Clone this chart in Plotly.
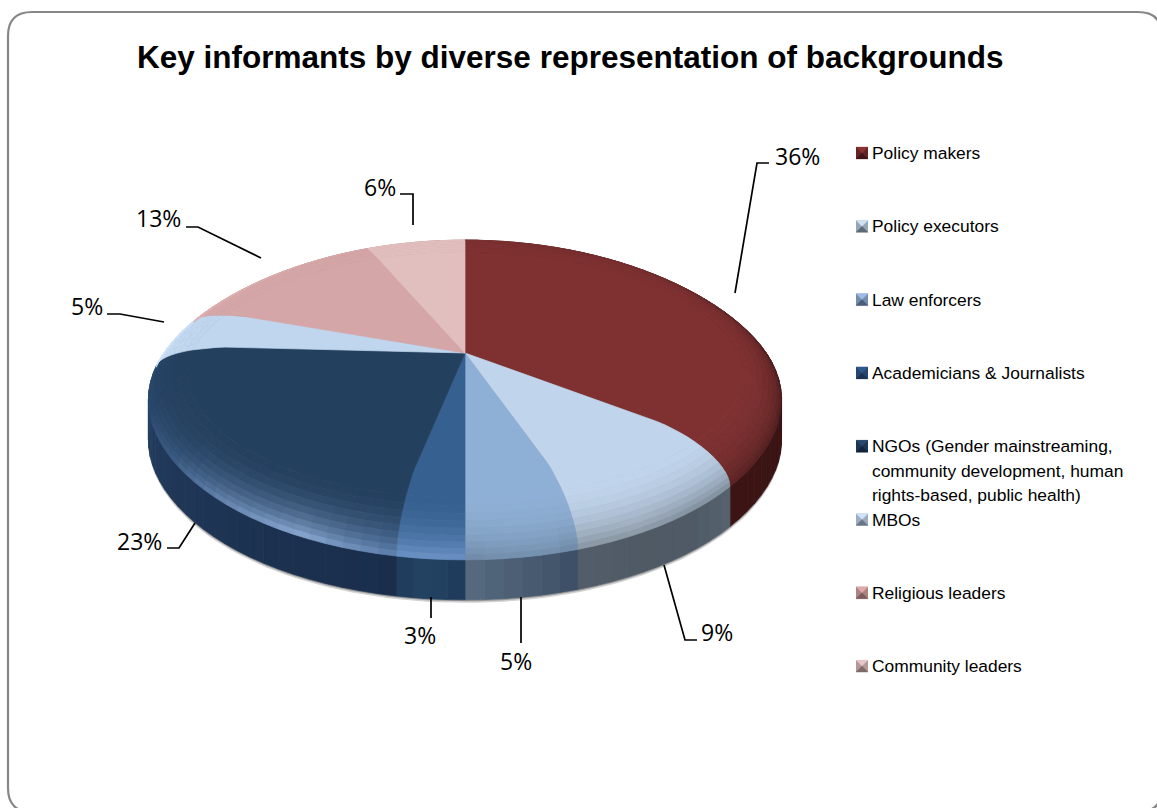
import math
import plotly.graph_objects as go

TITLE = "Key informants by diverse representation of backgrounds"
categories = [
    "Policy makers",
    "Policy executors",
    "Law enforcers",
    "Academicians & Journalists",
    "NGOs (Gender mainstreaming,<br>community development, human<br>rights-based, public health)",
    "MBOs",
    "Religious leaders",
    "Community leaders",
]
shares = [36, 9, 5, 3, 23, 5, 13, 6]

# Per-slice colours: flat top, edge bevel and side wall (stops run across each slice).
top_colors = ["#7f3132", "#c0d4ec", "#8fb0d6", "#35608f", "#24405f", "#bfd6ee", "#d5a6a7", "#e2bfbf"]
rim_colors = [
    ["#7a3232", "#6c2b2b", "#3c1818", "#5a2222"],
    ["#7f8c9a", "#808e9c", "#8a96a2", "#85929f"],
    ["#6d87a3", "#7390ae", "#728dab", "#6d88a5"],
    ["#6c93c6", "#6c93c6", "#6c93c6", "#6c93c6"],
    ["#5f82b0", "#8fadd8", "#6a8ab5", "#3c5c85", "#2b4a70", "#2b4a70"],
    ["#d2e6fc", "#d2e6fc", "#cde3fa", "#c8def5"],
    ["#e0b2b2", "#dcaeae", "#d8a9a9", "#d5a6a7"],
    ["#e2bfbf", "#e2bfbf", "#e2bfbf", "#e2bfbf"],
]
side_colors = [
    ["#3c1414", "#3c1414", "#3a1313", "#3c1414"],
    ["#56626e", "#4f5a66", "#4f5a65", "#535e6a"],
    ["#3c4e65", "#46586d", "#4e6177", "#586b80"],
    ["#1f3a5a", "#22405f", "#234262", "#1f3a5a"],
    ["#1a2e4c", "#1c3251", "#21395a", "#264567"],
    ["#2a4868", "#2a4868", "#2a4868", "#2a4868"],
    ["#7a5a5a", "#7a5a5a", "#7a5a5a", "#7a5a5a"],
    ["#7a5a5a", "#7a5a5a", "#7a5a5a", "#7a5a5a"],
]
legend_top = ["#8a3333", "#cfe2f6", "#9dbde4", "#2f5a8e", "#27486e", "#cfe4fa", "#dcaaaa", "#e6c6c6"]
legend_bottom = ["#401616", "#5d6a78", "#4b5c76", "#1c3250", "#12243b", "#6a7685", "#7b5b5b", "#7f6b6b"]

# Placement of the value labels and their leader lines, in page pixels.
label_xy = [(797, 156), (717, 632), (516, 661), (420, 635), (139, 541), (87, 306), (158, 218), (380, 187)]
leader_paths = [
    [(769, 163), (757, 163), (735, 293)],
    [(697, 640), (685, 640), (664, 565)],
    [(521, 597), (521, 643)],
    [(431, 597), (431, 618)],
    [(167, 548), (179, 548), (195, 523)],
    [(107, 314), (120, 314), (164, 322)],
    [(186, 227), (198, 227), (261, 258)],
    [(400, 194), (413, 194), (413, 225)],
]

# Projection of the tilted disc onto the page.
CX, CY = 465.0, 353.0
SPAN_X, SPAN_Y = 306.0, 132.0
TILT = -0.169
EDGE_BULGE = 0.022
FLAT_R = 0.72
RIM_DROP = 24.0
WALL = 40.0
SECTOR_DEG = 3.0
BEVEL_RINGS = 9
SHADE_START = math.radians(35)


def project(r, theta, lift=0.0):
    """Page position of a disc point at radius r, clockwise angle theta from twelve o'clock."""
    u, v = math.sin(theta), -math.cos(theta)
    denom = 1 + TILT * r * v
    x = CX + SPAN_X * r * u * (1 + EDGE_BULGE * u ** 8) / denom
    y = CY + SPAN_Y * r * v / denom + lift
    return x, y


def bevel_point(phi, theta):
    """Point on the rounded edge; phi runs from 0 (flat top) to pi/2 (outer rim)."""
    t = math.sin(phi)
    r = FLAT_R + (1 - FLAT_R) * t
    v = -math.cos(theta)
    return project(r, theta, RIM_DROP * (1 + v) * (1 - math.cos(phi)))


def wall_point(theta, extra=0.0):
    v = -math.cos(theta)
    return project(1.0, theta, RIM_DROP * (1 + v) + WALL + extra)


def to_rgb(c):
    return tuple(int(c[i:i + 2], 16) for i in (1, 3, 5))


def mix(a, b, w):
    ca, cb = to_rgb(a), to_rgb(b)
    return "#%02x%02x%02x" % tuple(round(p + (q - p) * w) for p, q in zip(ca, cb))


def along(stops, f):
    pos = f * (len(stops) - 1)
    i = min(int(pos), len(stops) - 2)
    return mix(stops[i], stops[i + 1], pos - i)


fig = go.Figure()


def polygon(points, color, line=0.7, opacity=None):
    xs, ys = zip(*points)
    fig.add_trace(go.Scatter(
        x=list(xs) + [xs[0]], y=list(ys) + [ys[0]], mode="lines", fill="toself",
        fillcolor=color, line=dict(color=color, width=line), opacity=opacity,
        hoverinfo="skip", showlegend=False,
    ))


# Slice angles from the shares.
total = sum(shares)
edges = [0.0]
for s in shares:
    edges.append(edges[-1] + 2 * math.pi * s / total)

# Soft shadow beneath the disc.
ring = [i * 2 * math.pi / 180 for i in range(180)]
polygon([wall_point(a, 3.0) for a in ring], "rgba(0,0,0,0.18)", line=0)
polygon([wall_point(a, 1.5) for a in ring], "rgba(0,0,0,0.25)", line=0)


def sector_steps(i):
    a0, a1 = edges[i], edges[i + 1]
    n = max(2, math.ceil(math.degrees(a1 - a0) / SECTOR_DEG))
    return [a0 + (a1 - a0) * j / n for j in range(n + 1)]


# Side wall, then the flat top, then the rounded edge.
for i in range(len(shares)):
    steps = sector_steps(i)
    n = len(steps) - 1
    for j in range(n):
        pts = [bevel_point(math.pi / 2, steps[j]), bevel_point(math.pi / 2, steps[j + 1]),
               wall_point(steps[j + 1]), wall_point(steps[j])]
        polygon(pts, along(side_colors[i], (j + 0.5) / n))

bends = [SHADE_START * b / 6 for b in range(7)]
for i in range(len(shares)):
    steps = sector_steps(i)
    n = len(steps) - 1
    # Solid part of the top: straight radial edges that begin to bend over the rim.
    outline = [(CX, CY)] + [bevel_point(p, steps[0]) for p in bends]
    outline += [bevel_point(SHADE_START, a) for a in steps]
    outline += [bevel_point(p, steps[-1]) for p in reversed(bends)]
    polygon(outline, top_colors[i])
    # Shaded part of the rim.
    for j in range(n):
        rim = along(rim_colors[i], (j + 0.5) / n)
        for k in range(BEVEL_RINGS):
            f0, f1 = k / BEVEL_RINGS, (k + 1) / BEVEL_RINGS
            p0 = SHADE_START + (math.pi / 2 - SHADE_START) * f0
            p1 = SHADE_START + (math.pi / 2 - SHADE_START) * f1
            pts = [bevel_point(p0, steps[j]), bevel_point(p0, steps[j + 1]),
                   bevel_point(p1, steps[j + 1]), bevel_point(p1, steps[j])]
            polygon(pts, mix(top_colors[i], rim, ((f0 + f1) / 2) ** 1.8))

# Legend keys: small bevelled squares.
KEY_X, KEY_Y0, KEY_DY, KEY_SIZE = 856.0, 153.0, 73.3, 12.0
LEGEND_FONT = dict(family="Liberation Sans", size=17.4, color="#000000")
annotations = []
for i, name in enumerate(categories):
    y = KEY_Y0 + KEY_DY * i
    x0, x1, y0, y1 = KEY_X, KEY_X + KEY_SIZE, y - KEY_SIZE / 2, y + KEY_SIZE / 2
    mid = (x0 + KEY_SIZE / 2, y)
    side = mix(legend_top[i], legend_bottom[i], 0.5)
    polygon([(x0, y0), (x1, y0), (x1, y1), (x0, y1)], side, line=0)
    polygon([(x0, y0), (x1, y0), mid], legend_top[i], line=0.3)
    polygon([(x0, y1), (x1, y1), mid], legend_bottom[i], line=0.3)
    for ln, part in enumerate(name.split("<br>")):
        annotations.append(dict(x=869.5, y=y + 24.5 * ln, xref="x", yref="y", text=part, showarrow=False,
                                xanchor="left", yanchor="middle", font=LEGEND_FONT))

# Value labels and leader lines.
shapes = []
for s, (lx, ly), path in zip(shares, label_xy, leader_paths):
    annotations.append(dict(x=lx, y=ly, xref="x", yref="y", text=f"{s}%", showarrow=False,
                            xanchor="center", yanchor="middle",
                            font=dict(family="Open Sans", size=23, color="#000000")))
    d = "M " + " L ".join(f"{px},{py}" for px, py in path)
    shapes.append(dict(type="path", path=d, xref="x", yref="y", line=dict(color="#000000", width=1.7)))

annotations.append(dict(x=570, y=57, xref="x", yref="y", text=f"<b>{TITLE}</b>", showarrow=False,
                        xanchor="center", yanchor="middle",
                        font=dict(family="Liberation Sans", size=31.5, color="#000000")))

# Rounded page frame, running slightly past the right and bottom edges.
L, T, R, B, C = 8, 12, 1162, 812, 24
frame = (f"M {L + C},{T} L {R - C},{T} Q {R},{T} {R},{T + C} L {R},{B - C} Q {R},{B} {R - C},{B} "
         f"L {L + C},{B} Q {L},{B} {L},{B - C} L {L},{T + C} Q {L},{T} {L + C},{T} Z")
shapes.insert(0, dict(type="path", path=frame, xref="x", yref="y", line=dict(color="#878787", width=2.2),
                      layer="below"))

fig.update_layout(
    width=1157, height=808, margin=dict(l=0, r=0, t=0, b=0),
    paper_bgcolor="#ffffff", plot_bgcolor="#ffffff", showlegend=False,
    xaxis=dict(range=[0, 1157], visible=False, fixedrange=True),
    yaxis=dict(range=[808, 0], visible=False, fixedrange=True),
    annotations=annotations, shapes=shapes,
)
fig.write_html("out.html", config=dict(displayModeBar=False))
